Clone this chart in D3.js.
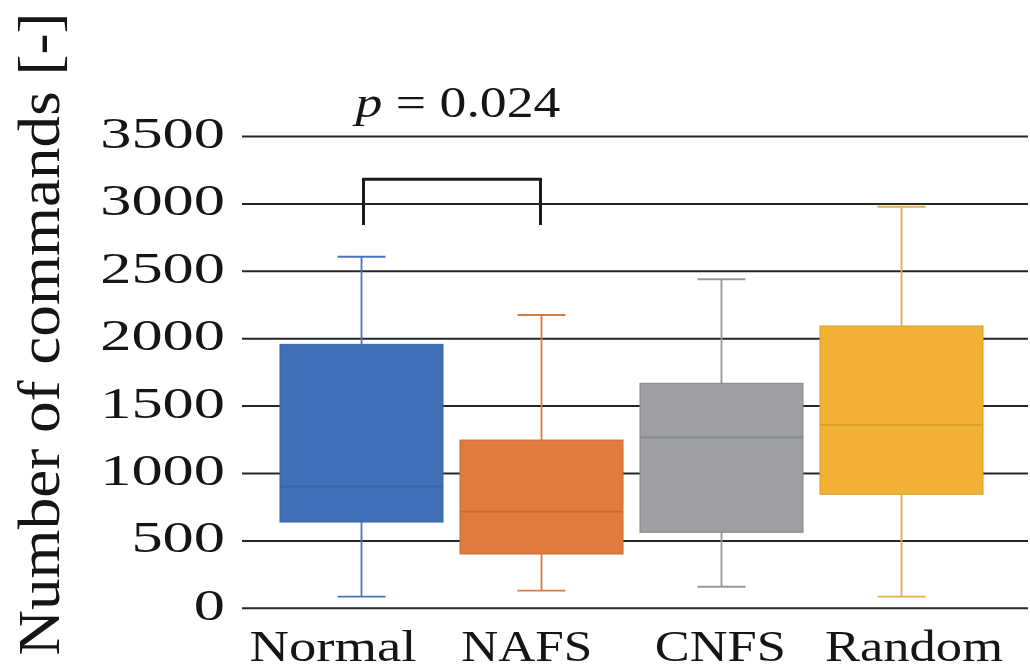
<!DOCTYPE html>
<html>
<head>
<meta charset="utf-8">
<script src="https://cdn.jsdelivr.net/npm/d3@7"></script>
<style>
  html, body { margin: 0; padding: 0; background: #fff; }
  svg { display: block; }
  text { font-family: "Liberation Serif", "Tinos", "Times New Roman", "DejaVu Serif", serif; fill: #151515; }
</style>
</head>
<body>
<svg id="chart" width="1030" height="670"></svg>
<script>
// ---- data ----
const categories = ["Normal", "NAFS", "CNFS", "Random"];
const whiskerMin = [86, 131, 160, 86];
const q1Values   = [640, 403, 564, 846];
const medians    = [902, 717, 1268, 1360];
const q3Values   = [1958, 1248, 1669, 2094];
const whiskerMax = [2608, 2176, 2441, 2979];
const yTicks = [0, 500, 1000, 1500, 2000, 2500, 3000, 3500];
const yLabel = "Number of commands [-]";
const bracketPair = ["Normal", "NAFS"];
const bracketTop = 3182;
const bracketBottom = 2843;
const pLabelValue = "0.024";
const pLabelLevel = 3645;

const fills    = ["#4070B8", "#E07A3E", "#9D9FA2", "#F0B134"];
const medianC  = ["#3A63A6", "#C96A30", "#85878A", "#D89C28"];
const whiskerC = ["#4A72BE", "#D97A42", "#979797", "#DFB04F"];

// target text widths (px) as seen in the reference
const labelWidth = { "Normal": 167, "NAFS": 131, "CNFS": 131, "Random": 178 };
const digitWidth = 31.2;

// ---- layout ----
const svg = d3.select("#chart");
const y = d3.scaleLinear().domain([0, 3500]).range([608.3, 136.5]);
const x = d3.scaleBand().domain(categories).range([271.5, 991.5])
  .paddingInner(0.0944).paddingOuter(0.0472);
const xLab = d3.scalePoint().domain(categories).range([333, 914]);
const bw = x.bandwidth();
const capW = 48;

const rows = categories.map((c, i) => ({
  cat: c, min: whiskerMin[i], q1: q1Values[i], med: medians[i],
  q3: q3Values[i], max: whiskerMax[i], fill: fills[i], mc: medianC[i], wc: whiskerC[i]
}));

// gridlines
svg.append("g").selectAll("line").data(yTicks).join("line")
  .attr("x1", 242).attr("x2", 1028)
  .attr("y1", d => y(d)).attr("y2", d => y(d))
  .attr("stroke", "#262626").attr("stroke-width", 2);

// tick labels
svg.append("g").selectAll("text").data(yTicks).join("text")
  .attr("x", 225).attr("y", d => y(d) + 11.5)
  .attr("text-anchor", "end")
  .attr("font-size", 45)
  .attr("textLength", d => String(d).length * digitWidth)
  .attr("lengthAdjust", "spacingAndGlyphs")
  .text(d => d);

// boxes
const g = svg.append("g").selectAll("g").data(rows).join("g");
g.append("line")
  .attr("x1", d => x(d.cat) + bw / 2).attr("x2", d => x(d.cat) + bw / 2)
  .attr("y1", d => y(d.max)).attr("y2", d => y(d.q3))
  .attr("stroke", d => d.wc).attr("stroke-width", 1.8);
g.append("line")
  .attr("x1", d => x(d.cat) + bw / 2).attr("x2", d => x(d.cat) + bw / 2)
  .attr("y1", d => y(d.q1)).attr("y2", d => y(d.min))
  .attr("stroke", d => d.wc).attr("stroke-width", 1.8);
g.append("line")
  .attr("x1", d => x(d.cat) + bw / 2 - capW / 2).attr("x2", d => x(d.cat) + bw / 2 + capW / 2)
  .attr("y1", d => y(d.max)).attr("y2", d => y(d.max))
  .attr("stroke", d => d.wc).attr("stroke-width", 1.8);
g.append("line")
  .attr("x1", d => x(d.cat) + bw / 2 - capW / 2).attr("x2", d => x(d.cat) + bw / 2 + capW / 2)
  .attr("y1", d => y(d.min)).attr("y2", d => y(d.min))
  .attr("stroke", d => d.wc).attr("stroke-width", 1.8);
g.append("rect")
  .attr("x", d => x(d.cat)).attr("width", bw)
  .attr("y", d => y(d.q3)).attr("height", d => y(d.q1) - y(d.q3))
  .attr("fill", d => d.fill)
  .attr("stroke", d => d.mc).attr("stroke-width", 1);
g.append("line")
  .attr("x1", d => x(d.cat)).attr("x2", d => x(d.cat) + bw)
  .attr("y1", d => y(d.med)).attr("y2", d => y(d.med))
  .attr("stroke", d => d.mc).attr("stroke-width", 1.8);

// x labels
svg.append("g").selectAll("text").data(categories).join("text")
  .attr("x", d => xLab(d)).attr("y", 661)
  .attr("text-anchor", "middle")
  .attr("font-size", 45)
  .attr("textLength", d => labelWidth[d])
  .attr("lengthAdjust", "spacingAndGlyphs")
  .text(d => d);

// y-axis title
svg.append("text")
  .attr("transform", "translate(59,334) rotate(-90)")
  .attr("text-anchor", "middle")
  .attr("font-size", 59)
  .attr("textLength", 643)
  .attr("lengthAdjust", "spacingAndGlyphs")
  .text(yLabel);

// significance bracket
const bx1 = x(bracketPair[0]) + bw / 2 + 2;
const bx2 = x(bracketPair[1]) + bw / 2 - 1;
svg.append("path")
  .attr("d", d3.line()([[bx1, y(bracketBottom)], [bx1, y(bracketTop)], [bx2, y(bracketTop)], [bx2, y(bracketBottom)]]))
  .attr("fill", "none").attr("stroke", "#1a1a1a").attr("stroke-width", 3);

const pt = svg.append("text")
  .attr("x", (bx1 + bx2) / 2 + 6).attr("y", y(pLabelLevel))
  .attr("text-anchor", "middle").attr("font-size", 45)
  .attr("textLength", 205).attr("lengthAdjust", "spacingAndGlyphs");
pt.append("tspan").attr("font-style", "italic").text("p");
pt.append("tspan").text(" = " + pLabelValue);
</script>
</body>
</html>
